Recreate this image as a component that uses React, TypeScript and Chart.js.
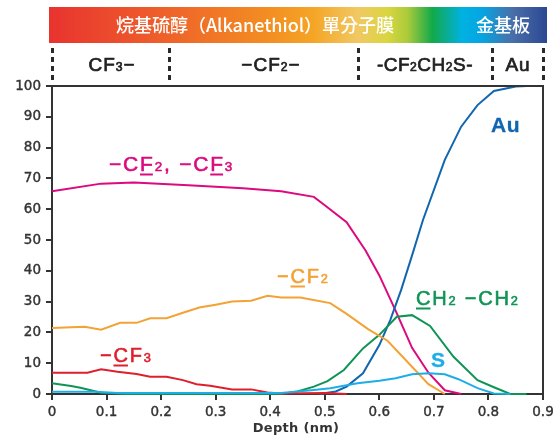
import React, { useEffect, useRef } from 'react';
import { Chart, registerables } from 'chart.js';

Chart.register(...registerables);

// ---------- data ----------
const xTickValues = [0, 0.1, 0.2, 0.3, 0.4, 0.5, 0.6, 0.7, 0.8, 0.9];
const yTickValues = [0, 10, 20, 30, 40, 50, 60, 70, 80, 90, 100];

const cf2cf3X = [0, 0.09, 0.15, 0.25, 0.35, 0.42, 0.48, 0.5, 0.54, 0.575, 0.6, 0.63, 0.66, 0.69, 0.72, 0.75];
const cf2cf3Y = [65.8, 68.3, 68.7, 67.8, 66.8, 65.8, 64, 61.3, 55.8, 46.5, 38.5, 27, 15, 6.9, 1.2, 0];

const cf2X = [0, 0.06, 0.09, 0.125, 0.155, 0.18, 0.21, 0.24, 0.27, 0.3, 0.33, 0.365, 0.395, 0.42, 0.455, 0.51, 0.54, 0.58, 0.615, 0.65, 0.69, 0.72];
const cf2Y = [21.4, 21.8, 20.9, 23.1, 23.1, 24.6, 24.6, 26.4, 28.1, 29, 30, 30.3, 31.9, 31.3, 31.3, 29.5, 26, 21, 17.3, 10.7, 3.2, 0];

const cf3X = [0, 0.065, 0.09, 0.12, 0.155, 0.18, 0.21, 0.24, 0.265, 0.29, 0.33, 0.365, 0.395, 0.42, 0.5, 0.54];
const cf3Y = [6.9, 6.9, 8.0, 7.2, 6.5, 5.6, 5.6, 4.5, 3.2, 2.7, 1.5, 1.5, 0.5, 0.2, 0.3, 0];

const ch2X = [0, 0.035, 0.052, 0.09, 0.135, 0.42, 0.45, 0.48, 0.505, 0.535, 0.57, 0.6, 0.632, 0.66, 0.693, 0.736, 0.78, 0.81, 0.84, 0.87];
const ch2Y = [3.5, 2.6, 2.0, 0.4, 0, 0, 0.8, 2.4, 4.2, 7.8, 14.8, 19.2, 25.1, 25.6, 22.1, 12.1, 4.5, 2.2, 0, 0];

const auX = [0.49, 0.52, 0.54, 0.57, 0.6, 0.62, 0.64, 0.66, 0.68, 0.72, 0.75, 0.78, 0.81, 0.85, 0.87];
const auY = [0, 0.8, 2.4, 6.7, 15.9, 24, 33.8, 45, 56.5, 76, 86.8, 93.8, 98.4, 99.8, 100];

const sX = [0, 0.08, 0.12, 0.42, 0.48, 0.51, 0.56, 0.6, 0.63, 0.66, 0.69, 0.72, 0.745, 0.78, 0.81, 0.84];
const sY = [0.7, 0.7, 0.3, 0.3, 1.3, 1.9, 3.5, 4.3, 5.1, 6.4, 6.7, 6.4, 4.8, 1.9, 0.2, 0];

const headerTitle = '烷基硫醇（Alkanethiol）單分子膜';
const headerGold = '金基板';
const regionBounds = [0, 0.214, 0.56, 0.806, 0.9];
const xTitle = 'Depth (nm)';

// ---------- colours ----------
const C_MAGENTA = '#dc0a7e';
const C_ORANGE = '#f3a235';
const C_RED = '#de1f2c';
const C_GREEN = '#0f9455';
const C_BLUE = '#1166b0';
const C_CYAN = '#1eaee6';
const C_AXIS = '#333333';

type Seg = { t: string; sub?: boolean; u?: boolean };

const LATIN = '"Liberation Sans", Arial, sans-serif';
const TICKFONT = '"DejaVu Sans", "Liberation Sans", sans-serif';

function measureRich(ctx: CanvasRenderingContext2D, segs: Seg[], size: number, weight: string, spacing: number) {
  ctx.save();
  (ctx as any).letterSpacing = `${spacing}px`;
  let w = 0;
  for (const s of segs) {
    const fs = s.sub ? size * 0.64 : size;
    ctx.font = `${weight} ${fs}px ${LATIN}`;
    w += ctx.measureText(s.t).width;
  }
  ctx.restore();
  return w;
}

function drawRich(
  ctx: CanvasRenderingContext2D,
  segs: Seg[],
  x: number,
  y: number,
  size: number,
  color: string,
  weight: string,
  spacing: number,
  align: 'left' | 'center' = 'left',
  stroke = 0.6
) {
  ctx.save();
  let cx = x;
  if (align === 'center') cx = x - measureRich(ctx, segs, size, weight, spacing) / 2;
  (ctx as any).letterSpacing = `${spacing}px`;
  ctx.fillStyle = color;
  ctx.strokeStyle = color;
  ctx.lineWidth = stroke;
  ctx.lineJoin = 'round';
  ctx.textAlign = 'left';
  ctx.textBaseline = 'alphabetic';
  for (const s of segs) {
    const fs = s.sub ? size * 0.64 : size;
    ctx.font = `${weight} ${fs}px ${LATIN}`;
    ctx.fillText(s.t, cx, y);
    if (stroke > 0) ctx.strokeText(s.t, cx, y);
    const w = ctx.measureText(s.t).width;
    if (s.u) ctx.fillRect(cx, y + 2.5, w - spacing, 2);
    cx += w;
  }
  ctx.restore();
}

const mk = (xs: number[], ys: number[]) => xs.map((x, i) => ({ x, y: ys[i] }));

const decorPlugin = {
  id: 'decor',
  beforeDraw(chart: any) {
    const ctx: CanvasRenderingContext2D = chart.ctx;
    const xs = chart.scales.x;
    ctx.save();
    // header gradient band
    const bx0 = 49, bx1 = 547, by0 = 7, by1 = 43;
    const g = ctx.createLinearGradient(bx0, 0, bx1, 0);
    g.addColorStop(0, '#e8332f');
    g.addColorStop(0.2, '#ee5a2b');
    g.addColorStop(0.45, '#f39022');
    g.addColorStop(0.53, '#f5a526');
    g.addColorStop(0.62, '#f1c862');
    g.addColorStop(0.68, '#d9d640');
    g.addColorStop(0.72, '#abcb3b');
    g.addColorStop(0.77, '#12a94a');
    g.addColorStop(0.83, '#00b1e2');
    g.addColorStop(0.87, '#05a5e2');
    g.addColorStop(0.93, '#4a6fa8');
    g.addColorStop(1, '#2c4893');
    ctx.fillStyle = g;
    ctx.fillRect(bx0, by0, bx1 - bx0, by1 - by0);

    ctx.fillStyle = '#ffffff';
    ctx.textBaseline = 'middle';
    ctx.textAlign = 'center';
    ctx.font = '500 18px "Noto Sans CJK TC", "Noto Sans CJK SC", sans-serif';
    ctx.fillText(headerTitle, 255, 25);
    ctx.fillText(headerGold, 503, 25);

    // dotted separators
    ctx.strokeStyle = '#2a2a2a';
    ctx.lineWidth = 3;
    ctx.setLineDash([5, 4]);
    for (const b of regionBounds) {
      const px = Math.round(xs.getPixelForValue(b)) + 0.5;
      ctx.beginPath();
      ctx.moveTo(px, 48);
      ctx.lineTo(px, 83);
      ctx.stroke();
    }
    ctx.setLineDash([]);
    ctx.restore();

    // region labels
    const col = '#222222';
    drawRich(ctx, [{ t: 'CF' }, { t: '3', sub: true }, { t: '−' }], 112, 71, 19, col, '400', 1, 'center', 0.7);
    drawRich(ctx, [{ t: '−CF' }, { t: '2', sub: true }, { t: '−' }], 271, 71, 19, col, '400', 1, 'center', 0.7);
    drawRich(ctx, [{ t: '-CF' }, { t: '2', sub: true }, { t: 'CH' }, { t: '2', sub: true }, { t: 'S-' }], 425, 71, 19, col, '400', 0.5, 'center', 0.7);
    drawRich(ctx, [{ t: 'Au' }], 518, 71, 19, col, '400', 1, 'center', 0.7);
  },
  afterDraw(chart: any) {
    const ctx: CanvasRenderingContext2D = chart.ctx;
    const a = chart.chartArea;
    ctx.save();
    // top & right frame
    ctx.strokeStyle = C_AXIS;
    ctx.lineWidth = 2;
    ctx.beginPath();
    ctx.moveTo(a.left, a.top);
    ctx.lineTo(a.right, a.top);
    ctx.lineTo(a.right, a.bottom);
    ctx.stroke();

    // x title
    ctx.fillStyle = C_AXIS;
    (ctx as any).letterSpacing = '0.3px';
    ctx.font = `bold 13px ${TICKFONT}`;
    ctx.textAlign = 'center';
    ctx.textBaseline = 'alphabetic';
    ctx.fillText(xTitle, 296, 432);
    ctx.restore();

    // series labels
    const W = '400';
    drawRich(ctx, [{ t: '−C' }, { t: 'F', u: true }, { t: '2', sub: true }, { t: ', −C' }, { t: 'F', u: true }, { t: '3', sub: true }], 109, 171, 21, C_MAGENTA, W, 1.8);
    drawRich(ctx, [{ t: '−' }, { t: 'C', u: true }, { t: 'F' }, { t: '2', sub: true }], 277, 283, 20, C_ORANGE, W, 1.8);
    drawRich(ctx, [{ t: 'C', u: true }, { t: 'H' }, { t: '2', sub: true }, { t: ' −CH' }, { t: '2', sub: true }], 416, 305, 20, C_GREEN, W, 1.8);
    drawRich(ctx, [{ t: 'S' }], 431, 367, 21, C_CYAN, 'bold', 0, 'left', 0.3);
    drawRich(ctx, [{ t: '−' }, { t: 'C', u: true }, { t: 'F' }, { t: '3', sub: true }], 100, 362, 20, C_RED, W, 1.8);
    drawRich(ctx, [{ t: 'Au' }], 491, 132, 21, C_BLUE, 'bold', 0.5, 'left', 0.3);
  },
};

export default function App() {
  const ref = useRef<HTMLCanvasElement | null>(null);
  useEffect(() => {
    if (!ref.current) return;
    const ds = (data: any, color: string) => ({
      data,
      borderColor: color,
      backgroundColor: color,
      borderWidth: 2,
      pointRadius: 0,
      tension: 0,
      fill: false,
      clip: false as any,
    });
    const tickFont = { family: TICKFONT, size: 13.5 };
    const chart = new Chart(ref.current, {
      type: 'line',
      data: {
        datasets: [
          ds(mk(sX, sY), C_CYAN),
          ds(mk(cf3X, cf3Y), C_RED),
          ds(mk(cf2X, cf2Y), C_ORANGE),
          ds(mk(ch2X, ch2Y), C_GREEN),
          ds(mk(auX, auY), C_BLUE),
          ds(mk(cf2cf3X, cf2cf3Y), C_MAGENTA),
        ],
      },
      options: {
        animation: false,
        responsive: false,
        events: [],
        layout: { padding: { top: 86, left: 0, right: 16, bottom: 0 } },
        plugins: { legend: { display: false }, tooltip: { enabled: false }, title: { display: false } },
        scales: {
          x: {
            type: 'linear',
            min: 0,
            max: 0.9,
            afterFit: (s: any) => { s.height = 45; },
            afterBuildTicks: (s: any) => { s.ticks = xTickValues.map((v) => ({ value: v })); },
            border: { display: true, color: C_AXIS, width: 2 },
            grid: { display: true, drawOnChartArea: false, drawTicks: true, tickLength: 6, color: C_AXIS, lineWidth: 2 },
            ticks: {
              color: C_AXIS,
              font: tickFont,
              textStrokeColor: C_AXIS,
              textStrokeWidth: 0.4,
              padding: 4,
              maxRotation: 0,
              autoSkip: false,
              callback: (v: any) => (Number(v) === 0 ? '0' : Number(v).toFixed(1)),
            },
          },
          y: {
            type: 'linear',
            min: 0,
            max: 100,
            afterFit: (s: any) => { s.width = 52; },
            afterBuildTicks: (s: any) => { s.ticks = yTickValues.map((v) => ({ value: v })); },
            border: { display: true, color: C_AXIS, width: 2 },
            grid: { display: true, drawOnChartArea: false, drawTicks: true, tickLength: 6, color: C_AXIS, lineWidth: 2 },
            ticks: {
              color: C_AXIS,
              font: tickFont,
              textStrokeColor: C_AXIS,
              textStrokeWidth: 0.4,
              padding: 5,
              autoSkip: false,
              callback: (v: any) => String(v),
            },
          },
        },
      },
      plugins: [decorPlugin],
    } as any);
    return () => chart.destroy();
  }, []);
  return (
    <div style={{ position: 'absolute', left: 0, top: 0, width: 559, height: 439, background: '#fff' }}>
      <canvas ref={ref} width={559} height={439} style={{ display: 'block', width: 559, height: 439 }} />
    </div>
  );
}
